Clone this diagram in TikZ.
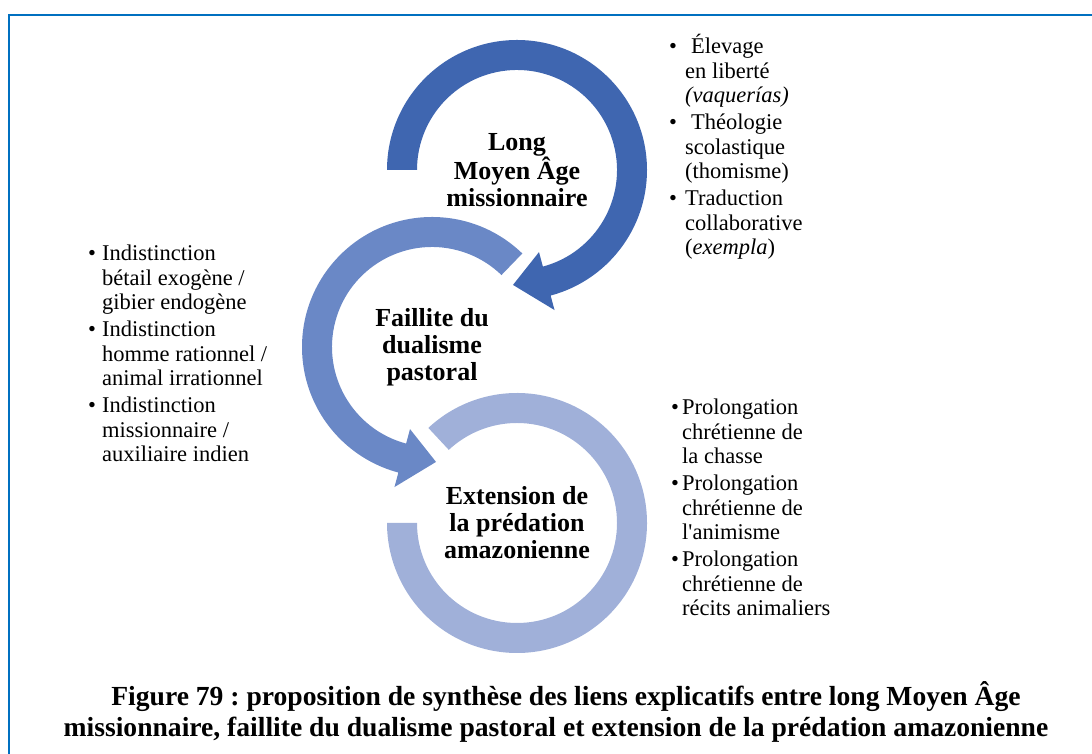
\documentclass[tikz,border=0pt]{standalone}
\usepackage{fontspec}
\setmainfont{Liberation Serif}
\definecolor{ringA}{HTML}{3F66B0}
\definecolor{ringB}{HTML}{6A88C6}
\definecolor{ringC}{HTML}{A0B0D9}
\definecolor{framecol}{HTML}{0070C0}
\newcommand{\bul}[1]{\makebox[#1][l]{\textbullet}}
\frenchspacing
\begin{document}
\begin{tikzpicture}[x=1pt,y=1pt,
  lbl/.style={align=center,font=\fontsize{26}{27}\selectfont\bfseries,inner sep=0pt},
  lst/.style={anchor=base west,inner sep=0pt,font=\fontsize{22.5}{24.5}\selectfont},
  captext/.style={align=center,inner sep=0pt,font=\fontsize{27.6}{31}\selectfont\bfseries},
  frameline/.style={draw=framecol,line width=2.2pt}]
\useasboundingbox (0,0) rectangle (1092,754);
\draw[frameline] (9,0) -- (9,739) -- (1092,739);
% centres
\coordinate (c1) at (517,584);
\coordinate (c2) at (432,407);
\coordinate (c3) at (517,231);
% ring 3 (light, no head)
\begin{scope}[shift={(c3)}]
\fill[ringC] (133:130) arc[start angle=133,end angle=-180,radius=130]
  -- (180:100) arc[start angle=-180,end angle=133,radius=100] -- cycle;
\end{scope}
% ring 2 (middle)
\begin{scope}[shift={(c2)}]
\fill[ringB] (46:130) arc[start angle=46,end angle=255,radius=130]
  -- (255:145) -- (272:115) -- (255:85) -- (255:100)
  arc[start angle=255,end angle=46,radius=100] -- cycle;
\end{scope}
% ring 1 (dark)
\begin{scope}[shift={(c1)}]
\fill[ringA] (180:130) arc[start angle=180,end angle=-75,radius=130]
  -- (-75:145) -- (-92:115) -- (-75:85) -- (-75:100)
  arc[start angle=-75,end angle=180,radius=100] -- cycle;
\end{scope}
% labels
\node[lbl] (t1) at (c1) {Long\\Moyen Âge\\missionnaire};
\node[lbl] (t2) at (c2) {Faillite du\\dualisme\\pastoral};
\node[lbl] (t3) at (c3) {Extension de\\la prédation\\amazonienne};
% lists
\node[lst] (l1) at (669,700) {\begin{tabular}[t]{@{}l@{}l@{}}
\bul{16pt} & \hspace{6pt}Élevage\\
 & en liberté\\
 & \textit{(vaquerías)}\\[2.5pt]
\bul{16pt} & \hspace{6pt}Théologie\\
 & scolastique\\
 & (thomisme)\\[2.5pt]
\bul{16pt} & Traduction\\
 & collaborative\\
 & (\textit{exempla})
\end{tabular}};
\node[lst] (l2) at (88,493) {\begin{tabular}[t]{@{}l@{}l@{}}
\bul{14pt} & Indistinction\\
 & bétail exogène /\\
 & gibier endogène\\[2.5pt]
\bul{14pt} & Indistinction\\
 & homme rationnel /\\
 & animal irrationnel\\[2.5pt]
\bul{14pt} & Indistinction\\
 & missionnaire /\\
 & auxiliaire indien
\end{tabular}};
\node[lst] (l3) at (671,339) {\begin{tabular}[t]{@{}l@{}l@{}}
\bul{11pt} & Prolongation\\
 & chrétienne de\\
 & la chasse\\[2.5pt]
\bul{11pt} & Prolongation\\
 & chrétienne de\\
 & l\textquotesingle animisme\\[2.5pt]
\bul{11pt} & Prolongation\\
 & chrétienne de\\
 & récits animaliers
\end{tabular}};
% caption
\node[captext] (caption) at (556,42) {\hspace*{20pt}Figure 79 : proposition de synthèse des liens explicatifs entre long Moyen Âge\\missionnaire, faillite du dualisme pastoral et extension de la prédation amazonienne};
\end{tikzpicture}
\end{document}
